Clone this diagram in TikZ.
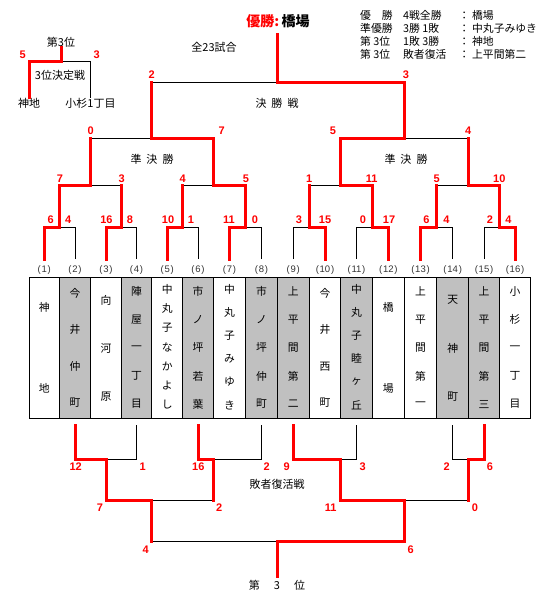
\documentclass[tikz,border=0pt]{standalone}
\usepackage{fontspec}
\setmainfont{Noto Sans CJK JP}
\newfontfamily\numfont{Liberation Sans}
\definecolor{cellgray}{RGB}{192,192,192}
\newcommand\teamcol[5]{%
  \foreach \ch [count=\k] in {#5}
    \node[jp] (t#1-\k) at (#2,{#3+(\k-1)*#4}) {\ch};}
\begin{document}
\begin{tikzpicture}[x=1pt,y=-1pt,
  win/.style={draw=red,line width=3pt,line cap=rect,line join=miter},
  lose/.style={draw=black,line width=0.8pt},
  sc/.style={text=red,font=\numfont\bfseries\fontsize{11}{12}\selectfont,inner sep=0pt},
  jp/.style={font=\fontsize{10.8}{12}\selectfont,inner sep=0pt},
  jpl/.style={font=\fontsize{11}{13}\selectfont,inner sep=0pt},
  leg/.style={font=\fontsize{10.8}{12}\selectfont,inner sep=0pt,anchor=west},
  num/.style={font=\numfont\fontsize{9.5}{11}\selectfont,text=black!80,inner sep=0pt},
  cell/.style={draw=black,line width=0.8pt}]
\useasboundingbox (0,0) rectangle (547,600);
% grid
\foreach \i/\x in {0/29.3,1/59.3,2/90.7,3/121.3,4/151.7,5/182.7,6/213.3,7/245.7,8/277.3,9/309.3,10/340.7,11/372.3,12/404.3,13/436.7,14/468.7,15/499.3,16/530.7}
  \coordinate (e\i) at (\x,0);
\foreach \i/\x in {1/44.3,2/75,3/106,4/136.5,5/167.2,6/198,7/229.5,8/261.5,9/293.3,10/325,11/356.5,12/388.3,13/420.5,14/452.7,15/484,16/515}
  \coordinate (c\i) at (\x,0);
\coordinate (yT) at (0,34);
\coordinate (yF) at (0,82);
\coordinate (yS) at (0,138.3);
\coordinate (yR2) at (0,185);
\coordinate (yR1) at (0,227);
\coordinate (yL) at (0,259);
\coordinate (yB0) at (0,425);
\coordinate (yB1) at (0,459.3);
\coordinate (yB2) at (0,500);
\coordinate (yB3) at (0,541);
\coordinate (yB4) at (0,576.7);
% team cells
\foreach \a/\b/\f in {0/1/white,1/2/cellgray,2/3/white,3/4/cellgray,4/5/white,5/6/cellgray,6/7/white,7/8/cellgray,8/9/cellgray,9/10/white,10/11/cellgray,11/12/white,12/13/white,13/14/cellgray,14/15/cellgray,15/16/white}
  \filldraw[cell,fill=\f] (e\a |- 0,277) rectangle (e\b |- 0,418);
\foreach \i in {1,...,16}
  \node[num] (p\i) at (c\i |- 0,270) {(\kern0.8pt\i\kern0.8pt)};
\teamcol{1}{44.3}{307}{81}{神,地}
\teamcol{2}{75}{293}{36.7}{今,井,仲,町}
\teamcol{3}{106}{300}{48.5}{向,河,原}
\teamcol{4}{136.5}{291.7}{28.1}{陣,屋,一,丁,目}
\teamcol{5}{167.2}{289}{19.33}{中,丸,子,な,か,よ,し}
\teamcol{6}{198}{291.7}{28.1}{市,ノ,坪,若,葉}
\teamcol{7}{229.5}{289}{23.2}{中,丸,子,み,ゆ,き}
\teamcol{8}{261.5}{291.7}{28.1}{市,ノ,坪,仲,町}
\teamcol{9}{293.3}{291.7}{28.1}{上,平,間,第,二}
\teamcol{10}{325}{293}{36.7}{今,井,西,町}
\teamcol{11}{356.5}{289}{23.2}{中,丸,子,睦,ヶ,丘}
\teamcol{12}{388.3}{307}{81}{橋,場}
\teamcol{13}{420.5}{291.7}{28.1}{上,平,間,第,一}
\teamcol{14}{452.7}{300}{48.5}{天,神,町}
\teamcol{15}{484}{291.7}{28.1}{上,平,間,第,三}
\teamcol{16}{515}{291.7}{28.1}{小,杉,一,丁,目}
% top bracket: black
\draw[lose] (e4|-yF) -- (e8|-yF);
\draw[lose] (e2|-yS) -- (e4|-yS);
\draw[lose] (e12|-yS) -- (e14|-yS);
\draw[lose] (e2|-yR2) -- (e3|-yR2);
\draw[lose] (e5|-yR2) -- (e6|-yR2);
\draw[lose] (e9|-yR2) -- (e10|-yR2);
\draw[lose] (e13|-yR2) -- (e14|-yR2);
\foreach \c/\e in {2/1,4/3,6/5,8/7,9/9,11/11,14/13,15/15}
  \draw[lose] (c\c|-yL) -- (c\c|-yR1) -- (e\e|-yR1);
% top bracket: red
\draw[win] (c12|-yL) -- (c12|-yR1) -- (e11|-yR1) -- (e11|-yR2) -- (e10|-yR2) -- (e10|-yS) -- (e12|-yS) -- (e12|-yF) -- (e8|-yF) -- (e8|-yT);
\draw[win] (c1|-yL) -- (c1|-yR1) -- (e1|-yR1) -- (e1|-yR2) -- (e2|-yR2) -- (e2|-yS);
\draw[win] (c3|-yL) -- (c3|-yR1) -- (e3|-yR1) -- (e3|-yR2);
\draw[win] (c5|-yL) -- (c5|-yR1) -- (e5|-yR1) -- (e5|-yR2);
\draw[win] (c7|-yL) -- (c7|-yR1) -- (e7|-yR1) -- (e7|-yR2) -- (e6|-yR2) -- (e6|-yS) -- (e4|-yS) -- (e4|-yF);
\draw[win] (c10|-yL) -- (c10|-yR1) -- (e9|-yR1) -- (e9|-yR2);
\draw[win] (c13|-yL) -- (c13|-yR1) -- (e13|-yR1) -- (e13|-yR2);
\draw[win] (c16|-yL) -- (c16|-yR1) -- (e15|-yR1) -- (e15|-yR2) -- (e14|-yR2) -- (e14|-yS);
% bottom bracket: black
\draw[lose] (c4|-yB0) -- (c4|-yB1) -- (c3|-yB1);
\draw[lose] (c8|-yB0) -- (c8|-yB1) -- (e6|-yB1);
\draw[lose] (c11|-yB0) -- (c11|-yB1) -- (e10|-yB1);
\draw[lose] (c14|-yB0) -- (c14|-yB1) -- (e14|-yB1);
\draw[lose] (e4|-yB2) -- (e6|-yB2);
\draw[lose] (e12|-yB2) -- (e14|-yB2);
\draw[lose] (e4|-yB3) -- (e8|-yB3);
% bottom bracket: red
\draw[win] (c2|-yB0) -- (c2|-yB1) -- (c3|-yB1) -- (c3|-yB2) -- (e4|-yB2) -- (e4|-yB3);
\draw[win] (c6|-yB0) -- (c6|-yB1) -- (e6|-yB1) -- (e6|-yB2);
\draw[win] (c9|-yB0) -- (c9|-yB1) -- (e10|-yB1) -- (e10|-yB2) -- (e12|-yB2) -- (e12|-yB3) -- (e8|-yB3) -- (e8|-yB4);
\draw[win] (c15|-yB0) -- (c15|-yB1) -- (e14|-yB1) -- (e14|-yB2);
% scores
\foreach \x/\y/\t [count=\n] in {22.7/55/5,96.7/55/3,151.7/75/2,406/75/3,
  90.7/131/0,221.7/131/7,333/131/5,468.3/131/4,
  60/179/7,121.7/179/3,182.7/179/4,246/179/5,309.3/179/1,371.7/179/11,436.7/179/5,499.3/179/10,
  50.7/220/6,68.3/220/4,106.5/220/16,130/220/8,168/220/10,191/220/1,229/220/11,255/220/0,
  299/220/3,325/220/15,363/220/0,389/220/17,426.5/220/6,446.5/220/4,490/220/2,508.5/220/4,
  75.7/466.7/12,142.7/466.7/1,198.3/466.7/16,266.7/466.7/2,286.7/466.7/9,362.7/466.7/3,446.7/466.7/2,490/466.7/6,
  100/507.7/7,219.3/507.7/2,330.7/507.7/11,475/507.7/0,
  145.7/549.3/4,410.7/549.3/6}
  \node[sc] (s\n) at (\x,\y) {\t};
% top-left third-place match
\node[jpl] (tl3) at (61,42) {第3位};
\node[jpl] (tlm) at (60,75) {3位決定戦};
\node[jpl] (kd) at (29,103) {神地};
\node[jpl] (ks) at (90.5,103) {小杉1丁目};
\coordinate (tlj) at (tl3.south |- 0,61.7);
\draw[lose] (tlj) -| (ks.north);
\draw[win] (tl3.south) -- (tlj) -| (kd.north);
% texts
\node[inner sep=0pt,font=\bfseries\fontsize{14}{16}\selectfont] (title) at (278,21) {\textcolor{red}{優勝:}\,橋場};
\node[font=\fontsize{11}{12}\selectfont,inner sep=0pt] (total) at (214,47) {全23試合};
\node[jpl] (final) at (277,103) {決\hspace{5pt}勝\hspace{5pt}戦};
\node[jpl] (semiL) at (152,159) {準\hspace{5pt}決\hspace{5pt}勝};
\node[jpl] (semiR) at (406,159) {準\hspace{5pt}決\hspace{5pt}勝};
\node[jpl] (rep) at (277,484) {敗者復活戦};
\node[jpl] (third) at (277,585.7) {第\hspace{14pt}3\hspace{14pt}位};
% legend
\node[leg] (lg1) at (360,15) {\makebox[43pt][l]{優　勝}\makebox[53pt][l]{4戦全勝}\makebox[16pt][c]{：}橋場};
\node[leg] (lg2) at (360,28) {\makebox[43pt][l]{準優勝}\makebox[53pt][l]{3勝 1敗}\makebox[16pt][c]{：}中丸子みゆき};
\node[leg] (lg3) at (360,41.7) {\makebox[43pt][l]{第 3位}\makebox[53pt][l]{1敗 3勝}\makebox[16pt][c]{：}神地};
\node[leg] (lg4) at (360,54.3) {\makebox[43pt][l]{第 3位}\makebox[53pt][l]{敗者復活}\makebox[16pt][c]{：}上平間第二};
\end{tikzpicture}
\end{document}
